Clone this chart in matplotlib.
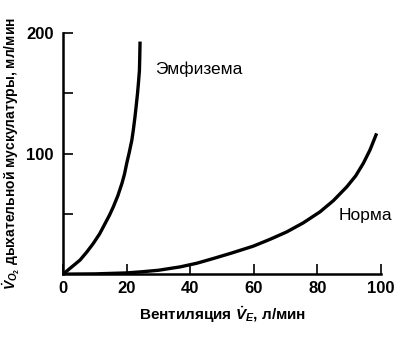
import matplotlib
matplotlib.use("Agg")
import matplotlib.pyplot as plt

plt.rcParams['font.family'] = ['Liberation Sans', 'DejaVu Sans']
plt.rcParams['mathtext.fontset'] = 'custom'
plt.rcParams['mathtext.rm'] = 'Liberation Sans:bold'
plt.rcParams['mathtext.it'] = 'Liberation Sans:bold:italic'
plt.rcParams['mathtext.bf'] = 'Liberation Sans:bold'

# Data
emph_x = [0, 2.5, 5.3, 7.5, 9.5, 11.5, 13.2, 14.6, 15.8, 17.2, 18.5, 19.3,
          20.0, 20.8, 21.6, 22.1, 22.6, 23.0, 23.4, 23.7, 24.0, 24.1, 24.2]
emph_y = [0, 5.5, 11.6, 18.5, 25.5, 33.5, 42, 49, 55.9, 65, 75.3, 83,
          91.9, 101, 111, 120, 130.5, 140, 150, 159, 169, 180, 193]
norm_x = [0, 10, 20, 25, 30, 36.8, 42, 47.3, 53, 59.8, 65, 70.3, 75.5,
          80.8, 85, 89.2, 92, 94.4, 96.5, 98.6]
norm_y = [0, 0.2, 1.0, 2.0, 3.2, 6.0, 9.0, 13.0, 17.5, 23.2, 28.8, 35, 42.5,
          51.7, 61, 72.4, 81.5, 91.9, 103, 116.8]

xticks = [0, 20, 40, 60, 80, 100]
yticks_major = [100, 200]
yticks_minor = [50, 150]

fig = plt.figure(figsize=(4.02, 3.38), dpi=100)
ax = fig.add_axes([0.157, 0.189, 0.791, 0.713])

ax.plot(emph_x, emph_y, color='black', lw=2.4, solid_capstyle='butt')
ax.plot(norm_x, norm_y, color='black', lw=2.4, solid_capstyle='butt')

ax.set_xlim(0, 100)
ax.set_ylim(0, 200)
ax.set_xticks(xticks)
ax.set_yticks(yticks_major)
ax.set_yticks(yticks_minor, minor=True)
ax.tick_params(axis='both', direction='in', length=7, width=1.2, labelsize=12)
ax.tick_params(axis='y', which='minor', direction='in', length=7, width=1.2)
ax.tick_params(axis='x', pad=5)
ax.tick_params(axis='y', pad=7)
for lbl in ax.get_xticklabels() + ax.get_yticklabels():
    lbl.set_fontweight('bold')

for s in ['top', 'right']:
    ax.spines[s].set_visible(False)
for s in ['left', 'bottom']:
    ax.spines[s].set_linewidth(1.8)

ax.text(29, 170, 'Эмфизема', fontsize=12.5, ha='left', va='center')
ax.text(86.5, 49, 'Норма', fontsize=12.5, ha='left', va='center')

ax.set_xlabel(r'Вентиляция $\dot{V}_{E}$, л/мин', fontsize=11, labelpad=6,
              fontweight='bold')
ax.set_ylabel(r'$\dot{V}_{O_2}$ дыхательной мускулатуры, мл/мин', fontsize=10,
              labelpad=3, fontweight='bold')

fig.savefig('out.png', dpi=100)
